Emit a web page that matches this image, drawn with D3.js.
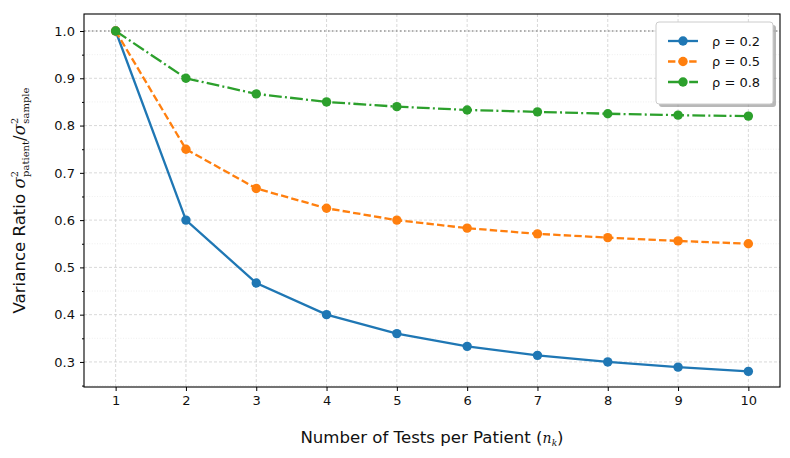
<!DOCTYPE html>
<html>
<head>
<meta charset="utf-8">
<script src="https://cdn.jsdelivr.net/npm/d3@7"></script>
<style>
  body { margin: 0; background: #fff; }
  svg { font-family: "DejaVu Sans", sans-serif; }
</style>
</head>
<body>
<script>
// data
var nTests = [1, 2, 3, 4, 5, 6, 7, 8, 9, 10];
var rho02 = [1.0, 0.600, 0.467, 0.400, 0.360, 0.333, 0.314, 0.300, 0.289, 0.280];
var rho05 = [1.0, 0.750, 0.667, 0.625, 0.600, 0.583, 0.571, 0.563, 0.556, 0.550];
var rho08 = [1.0, 0.900, 0.867, 0.850, 0.840, 0.833, 0.829, 0.825, 0.822, 0.820];
var seriesNames = ["ρ = 0.2", "ρ = 0.5", "ρ = 0.8"];
var yTicks = [0.3, 0.4, 0.5, 0.6, 0.7, 0.8, 0.9, 1.0];
var yMinor = [0.25, 0.35, 0.45, 0.55, 0.65, 0.75, 0.85, 0.95];

var width = 790, height = 458;
// plot box edges (don't use "top", it's window.top)
var pLeft = 84, pRight = 780, pTop = 14, pBottom = 387;

var colors = ["#1f77b4", "#ff7f0e", "#2ca02c"];
var dashes = [null, "7.4,3.2", "12.8,3.2,2,3.2"];
var allSeries = [rho02, rho05, rho08];

var x = d3.scaleLinear().domain([0.55, 10.45]).range([pLeft, pRight]);
var y = d3.scaleLinear().domain([0.247, 1.036]).range([pBottom, pTop]);

var svg = d3.select("body").append("svg")
    .attr("width", width)
    .attr("height", height);

// minor grid
svg.append("g").selectAll("line")
    .data(yMinor)
    .enter().append("line")
    .attr("x1", pLeft).attr("x2", pRight)
    .attr("y1", function(d) { return y(d); })
    .attr("y2", function(d) { return y(d); })
    .attr("stroke", "#e4e4e4")
    .attr("stroke-width", 0.6)
    .attr("stroke-dasharray", "1,1.6");

// major grid
var grid = svg.append("g")
    .attr("stroke", "#cfcfcf")
    .attr("stroke-width", 0.8)
    .attr("stroke-dasharray", "3,2");
grid.selectAll(".gx").data(nTests).enter().append("line")
    .attr("x1", function(d) { return x(d); })
    .attr("x2", function(d) { return x(d); })
    .attr("y1", pTop).attr("y2", pBottom);
grid.selectAll(".gy").data(yTicks).enter().append("line")
    .attr("y1", function(d) { return y(d); })
    .attr("y2", function(d) { return y(d); })
    .attr("x1", pLeft).attr("x2", pRight);

// reference line at 1.0
svg.append("line")
    .attr("x1", pLeft).attr("x2", pRight)
    .attr("y1", y(1.0)).attr("y2", y(1.0))
    .attr("stroke", "#999")
    .attr("stroke-width", 1.3)
    .attr("stroke-dasharray", "1.5,2.5");

// series
var line = d3.line()
    .x(function(d, i) { return x(nTests[i]); })
    .y(function(d) { return y(d); });

allSeries.forEach(function(s, k) {
    svg.append("path")
        .datum(s)
        .attr("d", line)
        .attr("fill", "none")
        .attr("stroke", colors[k])
        .attr("stroke-width", 2.3)
        .attr("stroke-dasharray", dashes[k]);
    svg.append("g").selectAll("circle")
        .data(s)
        .enter().append("circle")
        .attr("cx", function(d, i) { return x(nTests[i]); })
        .attr("cy", function(d) { return y(d); })
        .attr("r", 4.7)
        .attr("fill", colors[k]);
});

// axes
var xAxis = svg.append("g")
    .attr("transform", "translate(0," + pBottom + ")")
    .call(d3.axisBottom(x).tickValues(nTests).tickSize(4).tickPadding(5).tickFormat(d3.format("d")));
var yAxis = svg.append("g")
    .attr("transform", "translate(" + pLeft + ",0)")
    .call(d3.axisLeft(y).tickValues(yTicks).tickSize(4).tickPadding(5).tickFormat(d3.format(".1f")));
svg.append("g")
    .attr("transform", "translate(" + pLeft + ",0)")
    .call(d3.axisLeft(y).tickValues(yMinor).tickSize(2).tickFormat(""))
    .select(".domain").remove();
[xAxis, yAxis].forEach(function(a) {
    a.selectAll("text").attr("font-size", 13).attr("fill", "#111")
        .attr("font-family", "DejaVu Sans");
    a.select(".domain").remove();
});

// frame
svg.append("rect")
    .attr("x", pLeft).attr("y", pTop)
    .attr("width", pRight - pLeft).attr("height", pBottom - pTop)
    .attr("fill", "none")
    .attr("stroke", "#000")
    .attr("stroke-width", 1.1);

// axis labels
var xl = svg.append("text")
    .attr("x", (pLeft + pRight) / 2)
    .attr("y", 443)
    .attr("text-anchor", "middle")
    .attr("font-size", 16.6)
    .attr("fill", "#111");
xl.append("tspan").text("Number of Tests per Patient (");
xl.append("tspan").attr("font-family", "DejaVu Serif").attr("font-style", "italic")
    .attr("font-size", 14).text("n");
xl.append("tspan").attr("font-family", "DejaVu Serif").attr("font-style", "italic")
    .attr("font-size", 9).attr("dy", 3).text("k");
xl.append("tspan").attr("dy", -3).text(")");

var yl = svg.append("text")
    .attr("transform", "translate(25," + ((pTop + pBottom) / 2) + ") rotate(-90)")
    .attr("text-anchor", "middle")
    .attr("font-size", 16.6)
    .attr("fill", "#111");
yl.append("tspan").text("Variance Ratio ");
yl.append("tspan").attr("font-family", "DejaVu Serif").attr("font-style", "italic").text("σ");
yl.append("tspan").attr("font-family", "DejaVu Serif").attr("font-size", 10).attr("dy", -7).text("2");
yl.append("tspan").attr("font-family", "DejaVu Serif").attr("font-size", 10).attr("dx", -6).attr("dy", 11).text("patient");
yl.append("tspan").attr("font-family", "DejaVu Serif").attr("dy", -4).text("/");
yl.append("tspan").attr("font-family", "DejaVu Serif").attr("font-style", "italic").text("σ");
yl.append("tspan").attr("font-family", "DejaVu Serif").attr("font-size", 10).attr("dy", -7).text("2");
yl.append("tspan").attr("font-family", "DejaVu Serif").attr("font-size", 10).attr("dx", -6).attr("dy", 11).text("sample");

// legend
var lg = svg.append("g").attr("transform", "translate(656,22)");
lg.append("rect")
    .attr("x", 3).attr("y", 3).attr("width", 117).attr("height", 82)
    .attr("rx", 3).attr("fill", "#888").attr("opacity", 0.6);
lg.append("rect")
    .attr("width", 117).attr("height", 82)
    .attr("rx", 3).attr("fill", "#fff")
    .attr("stroke", "#ccc").attr("stroke-width", 1);
seriesNames.forEach(function(name, k) {
    var ly = 19 + k * 20.5;
    lg.append("line")
        .attr("x1", 12).attr("x2", 42)
        .attr("y1", ly).attr("y2", ly)
        .attr("stroke", colors[k])
        .attr("stroke-width", 2.3)
        .attr("stroke-dasharray", dashes[k]);
    lg.append("circle")
        .attr("cx", 27).attr("cy", ly).attr("r", 4.7)
        .attr("fill", colors[k]);
    lg.append("text")
        .attr("x", 56).attr("y", ly + 4.5)
        .attr("font-size", 13)
        .attr("fill", "#111")
        .text(name);
});
</script>
</body>
</html>
